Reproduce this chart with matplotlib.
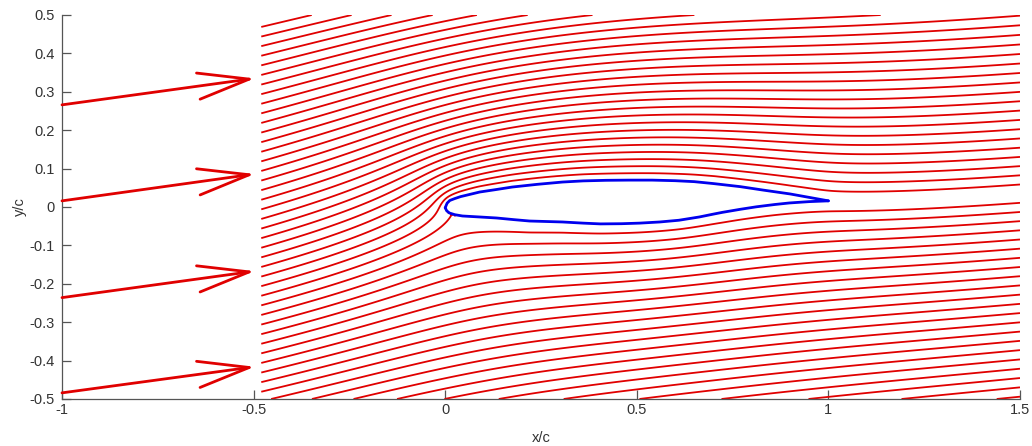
import numpy as np
import matplotlib
matplotlib.use("Agg")
import matplotlib.pyplot as plt
from matplotlib.path import Path

# freestream
alpha_deg = 8.6
U_inf = 1.0

# airfoil surface (x/c, y/c), LE -> TE
x_up = [0.000, 0.005, 0.012, 0.025, 0.040, 0.065, 0.090, 0.130, 0.175, 0.240, 0.306, 0.360,
        0.420, 0.480, 0.540, 0.600, 0.650, 0.700, 0.770, 0.830, 0.900, 0.950, 1.000]
y_up = [-0.002, 0.010, 0.017, 0.022, 0.027, 0.033, 0.039, 0.045, 0.052, 0.059, 0.065, 0.068,
        0.0695, 0.070, 0.070, 0.0685, 0.066, 0.061, 0.053, 0.044, 0.034, 0.025, 0.016]
x_lo = [0.000, 0.004, 0.011, 0.025, 0.045, 0.090, 0.134, 0.180, 0.220, 0.306, 0.360, 0.405,
        0.460, 0.507, 0.560, 0.610, 0.663, 0.700, 0.723, 0.770, 0.812, 0.860, 0.898, 0.950, 1.000]
y_lo = [-0.002, -0.010, -0.0156, -0.020, -0.0234, -0.026, -0.0286, -0.033, -0.0365, -0.039, -0.042, -0.044,
        -0.0435, -0.042, -0.039, -0.0345, -0.026, -0.0185, -0.014, -0.006, 0.0005, 0.0065, 0.0105, 0.014, 0.016]

# freestream arrows (tail -> tip)
arrow_x0 = -1.0
arrow_y0 = [0.266, 0.016, -0.236, -0.484]
arrow_x1 = -0.497
arrow_y1 = [0.335, 0.086, -0.167, -0.416]

# streamline seeds along x = -0.48, one of them on the stagnation streamline
seed_x = -0.48
seed_top, seed_bot, seed_dy = 0.49, -1.0, 0.025

xticks = [-1, -0.5, 0, 0.5, 1, 1.5]
yticks = [-0.5, -0.4, -0.3, -0.2, -0.1, 0, 0.1, 0.2, 0.3, 0.4, 0.5]

plt.rcParams['font.family'] = ['Liberation Sans', 'DejaVu Sans']
plt.rcParams['axes.unicode_minus'] = False
al = np.radians(alpha_deg)


def lnr_int(px, py, xa, ya, xb, yb):
    # integral of ln r along straight segment a->b, seen from (px, py)
    dx, dy = xb - xa, yb - ya
    L = np.hypot(dx, dy); tx, ty = dx / L, dy / L
    rx, ry = px - xa, py - ya
    xi = rx * tx + ry * ty
    eta = -rx * ty + ry * tx

    def F(u):
        r2 = u * u + eta * eta
        with np.errstate(divide='ignore', invalid='ignore'):
            a = np.where(r2 > 1e-30, 0.5 * u * np.log(r2), 0.0)
            b = np.where(np.abs(eta) > 1e-14, eta * np.arctan(u / eta), 0.0)
        return a - u + b
    return F(L - xi) - F(-xi)


# body nodes, clockwise from TE (lower -> LE -> upper), each read segment split into sub-panels
bx = np.r_[x_lo[::-1], x_up[1:]]; by = np.r_[y_lo[::-1], y_up[1:]]
nsub = 8
nx, ny = [], []
for k in range(len(bx) - 1):
    for s in range(nsub):
        t = s / nsub
        nx.append(bx[k] + t * (bx[k + 1] - bx[k])); ny.append(by[k] + t * (by[k + 1] - by[k]))
nx, ny = np.array(nx), np.array(ny)
N = len(nx)
xa, ya, xb, yb = nx, ny, np.roll(nx, -1), np.roll(ny, -1)

# constant-strength vortex panels, body is a streamline (psi = C) + Kutta condition
A = np.zeros((N + 1, N + 1))
for j in range(N):
    A[:N, j] = -lnr_int(nx, ny, xa[j], ya[j], xb[j], yb[j]) / (2 * np.pi)
A[:N, N] = -1.0
A[N, 0] = 1.0; A[N, N - 1] = 1.0
rhs = np.zeros(N + 1); rhs[:N] = -U_inf * (ny * np.cos(al) - nx * np.sin(al))
sol = np.linalg.solve(A, rhs)
gam, C = sol[:N], sol[N]


def psi(px, py):
    out = U_inf * (py * np.cos(al) - px * np.sin(al))
    for j in range(N):
        out = out - gam[j] * lnr_int(px, py, xa[j], ya[j], xb[j], yb[j]) / (2 * np.pi)
    return out


body = Path(np.c_[bx, by])


def field(gx, gy):
    X, Y = np.meshgrid(gx, gy)
    P = psi(X, Y)
    inside = body.contains_points(np.c_[X.ravel(), Y.ravel()]).reshape(X.shape)
    return X, Y, np.ma.masked_where(inside, P)


# where the stagnation streamline crosses x = seed_x
yy = np.linspace(-0.4, 0.4, 4001)
y_stag = np.interp(C, psi(np.full_like(yy, seed_x), yy), yy)
k_hi = int(np.floor((seed_top - y_stag) / seed_dy))
k_lo = int(np.floor((y_stag - seed_bot) / seed_dy))
sy = y_stag + seed_dy * np.array([k for k in range(-k_lo, k_hi + 1) if k != 0])
lev = np.unique(psi(np.full_like(sy, seed_x), sy))

X, Y, PSI = field(np.linspace(seed_x, 1.5, 640), np.linspace(-0.5, 0.5, 330))
Xs, Ys, PSIs = field(np.linspace(seed_x, 0.03, 220), np.linspace(-0.3, 0.0, 150))

fig = plt.figure(figsize=(10.32, 4.46), dpi=100)
ax = fig.add_axes([62 / 1032, 47 / 446, 958 / 1032, 384 / 446])
ax.contour(X, Y, PSI, levels=lev, colors='#e00000', linewidths=1.3, linestyles='solid')
ax.contour(Xs, Ys, PSIs, levels=[C], colors='#e00000', linewidths=1.3, linestyles='solid')
ax.plot(x_up, y_up, color='#0000ee', lw=2.0, solid_capstyle='round')
ax.plot(x_lo, y_lo, color='#0000ee', lw=2.0, solid_capstyle='round')

for y0, y1 in zip(arrow_y0, arrow_y1):
    ax.annotate('', xy=(arrow_x1, y1), xytext=(arrow_x0, y0), annotation_clip=False,
                arrowprops=dict(arrowstyle='->,head_length=3.7,head_width=0.95', color='#e00000',
                                lw=2.0, shrinkA=0, shrinkB=0, mutation_scale=10))

ax.set_xlim(-1, 1.5); ax.set_ylim(-0.5, 0.5)
ax.set_xticks(xticks); ax.set_yticks(yticks)
ax.set_xticklabels(['-1', '-0.5', '0', '0.5', '1', '1.5'])
ax.set_yticklabels(['-0.5', '-0.4', '-0.3', '-0.2', '-0.1', '0', '0.1', '0.2', '0.3', '0.4', '0.5'])
for s in ['top', 'right']:
    ax.spines[s].set_visible(False)
for s in ['left', 'bottom']:
    ax.spines[s].set_color('#555555'); ax.spines[s].set_linewidth(0.9)
ax.tick_params(direction='in', length=6.5, width=0.9, color='#555555', labelcolor='#333333', labelsize=10.5)
ax.tick_params(axis='x', pad=3)
ax.tick_params(axis='y', pad=5)
ax.set_xlabel('x/c', fontsize=10.5, color='#333333', labelpad=10)
ax.set_ylabel('y/c', fontsize=10.5, color='#333333', labelpad=2)

fig.savefig('out.png', dpi=100)
